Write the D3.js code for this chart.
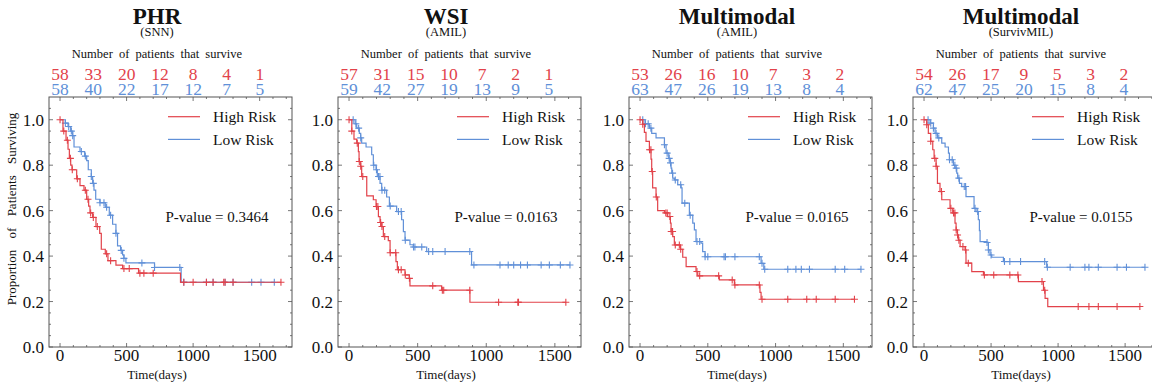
<!DOCTYPE html>
<html>
<head>
<meta charset="utf-8">
<script src="https://cdn.jsdelivr.net/npm/d3@7"></script>
<style>
  body { margin: 0; background: #fff; }
  svg { display: block; }
  text { font-family: "Liberation Serif", "DejaVu Serif", serif; fill: #111; }
</style>
</head>
<body>
<svg id="chart" width="1152" height="385"></svg>
<script>
// ---- data ----
const titles = ["PHR", "WSI", "Multimodal", "Multimodal"];
const subtitles = ["(SNN)", "(AMIL)", "(AMIL)", "(SurvivMIL)"];
const pValues = ["0.3464", "0.0163", "0.0165", "0.0155"];
const riskTimes = [0, 250, 500, 750, 1000, 1250, 1500];

const highRiskCounts = [
  [58, 33, 20, 12, 8, 4, 1],
  [57, 31, 15, 10, 7, 2, 1],
  [53, 26, 16, 10, 7, 3, 2],
  [54, 26, 17, 9, 5, 3, 2]
];
const lowRiskCounts = [
  [58, 40, 22, 17, 12, 7, 5],
  [59, 42, 27, 19, 13, 9, 5],
  [63, 47, 26, 19, 13, 8, 4],
  [62, 47, 25, 20, 15, 8, 4]
];

// [time, survival after the drop]
const highRiskSteps = [
  [[0,1],[22,0.95],[45,0.91],[60,0.87],[70,0.83],[80,0.80],[90,0.78],[125,0.74],[150,0.71],[180,0.69],[200,0.65],[215,0.62],[225,0.59],[245,0.57],[270,0.53],[298,0.50],[310,0.43],[340,0.41],[360,0.38],[420,0.36],[470,0.345],[590,0.325],[905,0.285]],
  [[0,1],[20,0.95],[36,0.915],[56,0.897],[68,0.86],[73,0.816],[85,0.795],[92,0.75],[129,0.665],[177,0.648],[197,0.618],[214,0.574],[226,0.548],[238,0.53],[250,0.486],[286,0.468],[299,0.415],[342,0.376],[352,0.34],[408,0.317],[439,0.302],[444,0.269],[675,0.25],[881,0.197]],
  [[0,1],[20,0.98],[32,0.944],[44,0.905],[69,0.868],[81,0.827],[86,0.772],[93,0.70],[118,0.66],[130,0.60],[180,0.59],[204,0.574],[224,0.545],[229,0.508],[241,0.486],[253,0.449],[298,0.43],[315,0.395],[340,0.354],[413,0.332],[426,0.313],[585,0.295],[696,0.273],[885,0.24],[893,0.21]],
  [[0,1],[20,0.978],[32,0.94],[50,0.905],[65,0.868],[75,0.83],[90,0.795],[100,0.72],[119,0.684],[132,0.648],[194,0.61],[214,0.59],[231,0.545],[239,0.515],[249,0.493],[256,0.47],[269,0.442],[306,0.427],[313,0.369],[356,0.332],[443,0.317],[704,0.288],[891,0.25],[903,0.214],[923,0.178]]
];
const lowRiskSteps = [
  [[0,1],[40,0.985],[60,0.97],[80,0.95],[95,0.93],[105,0.88],[150,0.86],[185,0.84],[200,0.82],[212,0.78],[235,0.75],[245,0.72],[255,0.69],[268,0.65],[300,0.635],[340,0.615],[370,0.58],[395,0.54],[420,0.50],[432,0.445],[455,0.425],[470,0.405],[480,0.39],[495,0.37],[710,0.35],[910,0.285]],
  [[0,1],[44,0.982],[56,0.963],[75,0.94],[85,0.92],[92,0.897],[124,0.88],[165,0.846],[177,0.80],[197,0.78],[206,0.75],[226,0.72],[238,0.69],[274,0.66],[294,0.62],[347,0.596],[383,0.56],[396,0.508],[408,0.47],[444,0.45],[468,0.44],[566,0.42],[893,0.361]],
  [[0,1],[37,0.982],[69,0.963],[86,0.94],[118,0.92],[180,0.89],[192,0.853],[212,0.83],[221,0.81],[229,0.787],[234,0.765],[241,0.743],[253,0.735],[278,0.714],[303,0.70],[310,0.633],[364,0.58],[389,0.545],[401,0.515],[413,0.464],[450,0.457],[462,0.42],[480,0.397],[893,0.368],[913,0.342]],
  [[0,1],[45,0.985],[70,0.963],[82,0.94],[100,0.92],[132,0.897],[157,0.88],[182,0.853],[189,0.824],[219,0.80],[231,0.787],[244,0.765],[251,0.743],[264,0.72],[281,0.706],[313,0.662],[373,0.61],[388,0.596],[405,0.56],[413,0.512],[418,0.464],[468,0.46],[480,0.427],[492,0.405],[505,0.395],[592,0.376],[915,0.351]]
];

const highRiskCensored = [
  [0,28,55,78,92,130,190,210,230,250,280,350,380,480,520,600,630,700,930,1000,1100,1150,1230,1240,1300,1660],
  [0,20,60,75,85,100,200,210,230,240,260,300,340,360,380,410,440,610,680,690,880,1090,1230,1235,1580],
  [0,20,70,80,90,120,190,200,220,230,240,260,290,300,420,440,580,680,700,880,900,1090,1230,1300,1440,1582],
  [0,20,50,80,90,130,200,220,230,240,250,260,290,310,330,450,520,640,700,880,900,1150,1230,1300,1440,1610]
];
const lowRiskCensored = [
  [40,65,85,95,160,190,235,250,300,330,350,380,420,460,480,615,710,900,930,1100,1150,1240,1300,1440,1510,1610],
  [30,50,70,85,180,200,215,225,240,260,300,360,380,410,470,480,530,580,610,700,880,910,1100,1160,1200,1250,1300,1400,1460,1540,1610],
  [20,40,60,80,180,200,215,225,240,260,300,330,370,420,440,480,500,620,630,700,880,900,920,1090,1150,1190,1250,1440,1510,1630],
  [30,50,70,90,110,190,210,230,240,260,300,310,380,400,470,480,500,600,640,720,900,920,1090,1200,1230,1300,1440,1510,1648]
];

// ---- layout ----
const RED = "#e2424a";
const BLUE = "#6090d8";
const panelLeft = [49, 338, 629, 913];
const panelW = 243;
const plotTop = 97, plotBottom = 347;
const countStep = 33.3;

const svg = d3.select("#chart");

function survAt(steps, t) {
  let s = steps[0][1];
  for (const [st, sv] of steps) { if (st <= t) s = sv; }
  return s;
}

panelLeft.forEach((left, i) => {
  const maxT = d3.max([...highRiskCensored[i], ...lowRiskCensored[i]]);
  const x = d3.scaleLinear()
    .domain([-0.05 * maxT, 1.05 * maxT])
    .range([left, left + panelW]);
  const y = d3.scaleLinear().domain([0, 1.1]).range([plotBottom, plotTop]);

  const g = svg.append("g");

  // titles
  const cx = left + 108;
  g.append("text").attr("x", cx).attr("y", 24).attr("text-anchor", "middle")
    .attr("font-size", 23).attr("font-weight", "bold").text(titles[i]);
  g.append("text").attr("x", cx).attr("y", 35.5).attr("text-anchor", "middle")
    .attr("font-size", 12.5).text(subtitles[i]);
  g.append("text").attr("x", cx).attr("y", 58).attr("text-anchor", "middle")
    .attr("font-size", 12.5).attr("word-spacing", 3).text("Number of patients that survive");

  // at-risk counts
  riskTimes.forEach((t, k) => {
    const px = x(0) + k * countStep;
    g.append("text").attr("x", px).attr("y", 80).attr("text-anchor", "middle")
      .attr("font-size", 17.5).style("fill", RED).text(highRiskCounts[i][k]);
    g.append("text").attr("x", px).attr("y", 95).attr("text-anchor", "middle")
      .attr("font-size", 17.5).style("fill", BLUE).text(lowRiskCounts[i][k]);
  });

  // frame
  g.append("rect").attr("x", left).attr("y", plotTop).attr("width", panelW).attr("height", plotBottom - plotTop)
    .attr("fill", "none").attr("stroke", "#555").attr("stroke-width", 1);

  // ticks (inward, all sides)
  const xMajor = d3.range(0, maxT * 1.05, 500);
  const xMinor = d3.range(-100, maxT * 1.05, 100).filter(v => v % 500 !== 0 && v >= x.domain()[0]);
  const yMajor = d3.range(0, 1.01, 0.2);
  const yMinor = d3.range(0, 1.1, 0.05).filter(v => Math.abs(v / 0.2 - Math.round(v / 0.2)) > 1e-6);

  const tick = g.append("g").attr("stroke", "#555").attr("stroke-width", 0.8);
  xMajor.forEach(v => {
    tick.append("line").attr("x1", x(v)).attr("x2", x(v)).attr("y1", plotBottom).attr("y2", plotBottom - 4);
    tick.append("line").attr("x1", x(v)).attr("x2", x(v)).attr("y1", plotTop).attr("y2", plotTop + 4);
  });
  xMinor.forEach(v => {
    tick.append("line").attr("x1", x(v)).attr("x2", x(v)).attr("y1", plotBottom).attr("y2", plotBottom - 2);
    tick.append("line").attr("x1", x(v)).attr("x2", x(v)).attr("y1", plotTop).attr("y2", plotTop + 2);
  });
  yMajor.forEach(v => {
    tick.append("line").attr("x1", left).attr("x2", left + 4).attr("y1", y(v)).attr("y2", y(v));
    tick.append("line").attr("x1", left + panelW).attr("x2", left + panelW - 4).attr("y1", y(v)).attr("y2", y(v));
  });
  yMinor.forEach(v => {
    tick.append("line").attr("x1", left).attr("x2", left + 2).attr("y1", y(v)).attr("y2", y(v));
    tick.append("line").attr("x1", left + panelW).attr("x2", left + panelW - 2).attr("y1", y(v)).attr("y2", y(v));
  });

  // tick labels
  xMajor.forEach(v => {
    g.append("text").attr("x", x(v)).attr("y", 361).attr("text-anchor", "middle")
      .attr("font-size", 17).text(v);
  });
  yMajor.forEach(v => {
    g.append("text").attr("x", left - 5).attr("y", y(v) + 6).attr("text-anchor", "end")
      .attr("font-size", 17).text(d3.format(".1f")(v));
  });

  // axis labels
  g.append("text").attr("x", cx).attr("y", 379).attr("text-anchor", "middle")
    .attr("font-size", 13).text("Time(days)");
  if (i === 0) {
    g.append("text").attr("transform", `translate(16,${(plotTop + plotBottom) / 2 - 13}) rotate(-90)`)
      .attr("text-anchor", "middle").attr("font-size", 13).attr("word-spacing", 8)
      .text("Proportion of Patients Surviving");
  }

  // curves
  const line = d3.line().x(d => x(d[0])).y(d => y(d[1])).curve(d3.curveStepAfter);
  const groups = [
    { steps: lowRiskSteps[i], cens: lowRiskCensored[i], color: BLUE },
    { steps: highRiskSteps[i], cens: highRiskCensored[i], color: RED }
  ];
  groups.forEach(grp => {
    const endT = d3.max(grp.cens);
    const pts = grp.steps.concat([[endT, grp.steps[grp.steps.length - 1][1]]]);
    g.append("path").datum(pts).attr("d", line)
      .attr("fill", "none").attr("stroke", grp.color).attr("stroke-width", 1.2);
    g.append("g").selectAll("path").data(grp.cens).join("path")
      .attr("d", t => {
        const px = x(t), py = y(survAt(grp.steps, t));
        return `M${px - 3.5},${py}h7M${px},${py - 3.5}v7`;
      })
      .attr("stroke", grp.color).attr("stroke-width", 1.1).attr("fill", "none");
  });

  // legend
  const legend = [["High Risk", RED], ["Low Risk", BLUE]];
  legend.forEach(([label, color], k) => {
    const ly = 116.7 + k * 22.7;
    g.append("line").attr("x1", left + 119).attr("x2", left + 151).attr("y1", ly).attr("y2", ly)
      .attr("stroke", color).attr("stroke-width", 1.2);
    g.append("text").attr("x", left + 164).attr("y", ly + 5.5).attr("font-size", 15.5).text(label);
  });

  // p-value
  g.append("text").attr("x", left + 116.5).attr("y", 221.5).attr("font-size", 15)
    .text("P-value = " + pValues[i]);
});
</script>
</body>
</html>
